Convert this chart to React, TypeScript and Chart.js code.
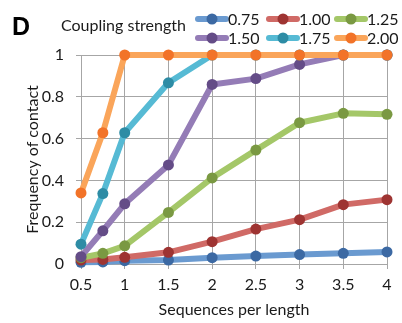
import React, { useEffect, useRef } from "react";
import { Chart, registerables } from "chart.js";

Chart.register(...registerables);

const xValues = [0.5, 0.75, 1, 1.5, 2, 2.5, 3, 3.5, 4];
const seriesLabels = ["0.75", "1.00", "1.25", "1.50", "1.75", "2.00"];
const s075 = [0.008, 0.01, 0.016, 0.019, 0.03, 0.038, 0.045, 0.051, 0.058];
const s100 = [0.019, 0.022, 0.032, 0.056, 0.107, 0.167, 0.212, 0.284, 0.308];
const s125 = [0.03, 0.051, 0.087, 0.247, 0.412, 0.545, 0.676, 0.721, 0.716];
const s150 = [0.035, 0.159, 0.288, 0.474, 0.859, 0.887, 0.955, 1.0, 1.0];
const s175 = [0.095, 0.337, 0.628, 0.867, 1.0, 1.0, 1.0, 1.0, 1.0];
const s200 = [0.34, 0.628, 1.0, 1.0, 1.0, 1.0, 1.0, 1.0, 1.0];
const seriesValues = [s075, s100, s125, s150, s175, s200];
const lineColors = ["#6a9ad0", "#d06a66", "#a4c768", "#947cb6", "#56bad4", "#faa55a"];
const markerColors = ["#3c69a3", "#9e3432", "#7a9942", "#644c87", "#2d8ca5", "#f27328"];
const yTicks = [0, 0.2, 0.4, 0.6, 0.8, 1];
const xTitle = "Sequences per length";
const yTitle = "Frequency of contact";
const legendTitle = "Coupling strength";
const panelLabel = "D";

const FONT = "Lato, 'Liberation Sans', sans-serif";
const FS = 16;
const TEXT = "#1a1a1a";
const GRID = "#a6a6a6";

const fmt = (v: any) => String(Number(Number(v).toFixed(2)));

const headerPlugin = {
  id: "header",
  afterDraw(chart: any) {
    const ctx = chart.ctx;
    ctx.save();
    ctx.fillStyle = "#000";
    ctx.font = "bold 25px 'Liberation Sans', Arial, sans-serif";
    ctx.textAlign = "left";
    ctx.textBaseline = "alphabetic";
    ctx.fillText(panelLabel, 12, 35);
    ctx.font = `${FS}px ${FONT}`;
    ctx.fillStyle = TEXT;
    ctx.textBaseline = "middle";
    ctx.fillText(legendTitle, 61, 26);
    const colX = [196, 267, 335];
    const rowY = [19, 38];
    seriesLabels.forEach((lab, i) => {
      const x = colX[i % 3];
      const y = rowY[Math.floor(i / 3)];
      ctx.strokeStyle = lineColors[i];
      ctx.lineWidth = 6;
      ctx.lineCap = "round";
      ctx.beginPath();
      ctx.moveTo(x + 2, y);
      ctx.lineTo(x + 30, y);
      ctx.stroke();
      ctx.fillStyle = markerColors[i];
      ctx.beginPath();
      ctx.arc(x + 16, y, 5.5, 0, Math.PI * 2);
      ctx.fill();
      ctx.fillStyle = TEXT;
      ctx.fillText(lab, x + 32, y + 1);
    });
    ctx.restore();
  },
};

export default function App() {
  const ref = useRef<HTMLCanvasElement | null>(null);
  useEffect(() => {
    if (!ref.current) return;
    const chart = new Chart(ref.current, {
      type: "line",
      data: {
        datasets: seriesValues.map((vals, i) => ({
          label: seriesLabels[i],
          data: xValues.map((x, j) => ({ x, y: vals[j] })),
          borderColor: lineColors[i],
          backgroundColor: markerColors[i],
          pointBackgroundColor: markerColors[i],
          pointBorderColor: markerColors[i],
          pointRadius: 5.5,
          pointBorderWidth: 0,
          borderWidth: 6,
          borderJoinStyle: "round" as const,
          borderCapStyle: "round" as const,
          tension: 0,
          clip: false as any,
          order: seriesLabels.length - i,
        })),
      },
      plugins: [headerPlugin],
      options: {
        animation: false,
        responsive: false,
        devicePixelRatio: 1,
        layout: { padding: { left: 0, right: 15, top: 55, bottom: 0 } },
        plugins: { legend: { display: false }, tooltip: { enabled: false }, title: { display: false } },
        scales: {
          x: {
            type: "linear",
            min: 0.5,
            max: 4,
            ticks: { stepSize: 0.5, color: TEXT, font: { family: FONT, size: FS }, padding: 6, maxRotation: 0, callback: (v: any) => fmt(v) },
            grid: { color: GRID, lineWidth: 1, tickLength: 5, tickColor: GRID },
            border: { color: GRID, width: 1 },
            title: { display: true, text: xTitle, color: TEXT, font: { family: FONT, size: FS, lineHeight: 1.2 }, padding: { top: 0, bottom: 4 } },
            afterFit(scale: any) { scale.height = 59; },
          },
          y: {
            min: 0,
            max: 1,
            afterBuildTicks(scale: any) { scale.ticks = yTicks.map((v) => ({ value: v })); },
            ticks: { color: TEXT, font: { family: FONT, size: FS }, padding: 12, callback: (v: any) => fmt(v) },
            grid: { color: GRID, lineWidth: 1, tickLength: 5, tickColor: GRID },
            border: { color: GRID, width: 1 },
            title: { display: true, text: yTitle, color: TEXT, font: { family: FONT, size: FS, lineHeight: 1.2 }, padding: { top: 23, bottom: 0 } },
            afterFit(scale: any) { scale.width = 81; },
          },
        },
      },
    } as any);
    return () => chart.destroy();
  }, []);
  return (
    <div style={{ position: "fixed", left: 0, top: 0, width: 402, height: 323, background: "#fff" }}>
      <canvas ref={ref} width={402} height={323} style={{ width: 402, height: 323 }} />
    </div>
  );
}
